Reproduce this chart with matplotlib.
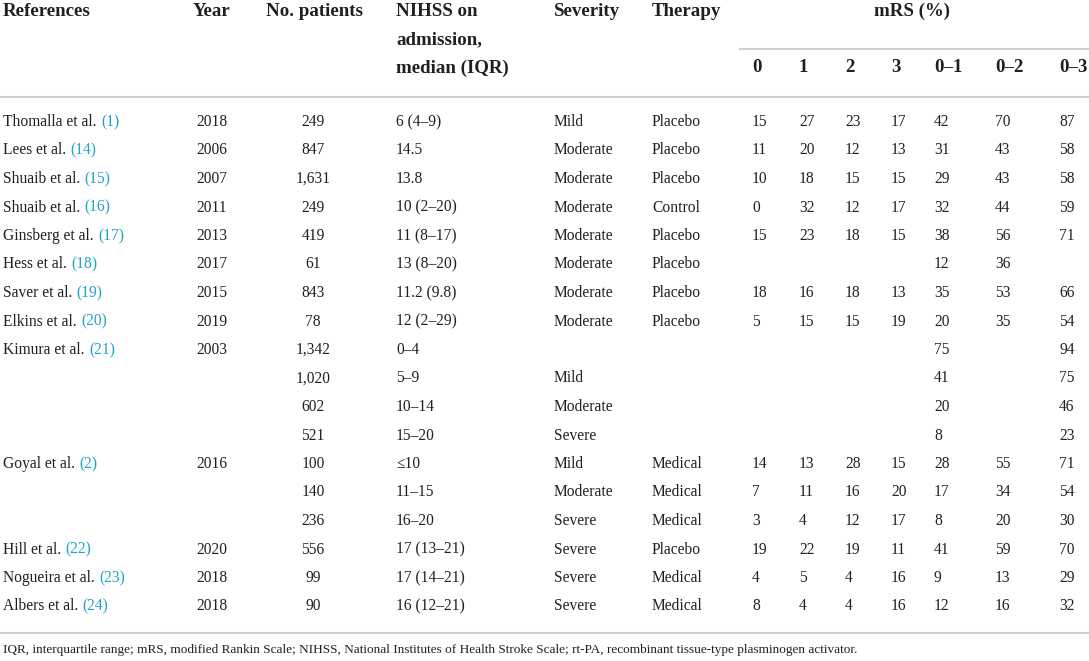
import matplotlib
matplotlib.use("Agg")
import matplotlib.pyplot as plt

# table content
refs = ["Thomalla et al.", "Lees et al.", "Shuaib et al.", "Shuaib et al.", "Ginsberg et al.",
        "Hess et al.", "Saver et al.", "Elkins et al.", "Kimura et al.", "", "", "",
        "Goyal et al.", "", "", "Hill et al.", "Nogueira et al.", "Albers et al."]
cites = ["(1)", "(14)", "(15)", "(16)", "(17)", "(18)", "(19)", "(20)", "(21)", "", "", "",
         "(2)", "", "", "(22)", "(23)", "(24)"]
years = ["2018", "2006", "2007", "2011", "2013", "2017", "2015", "2019", "2003", "", "", "",
         "2016", "", "", "2020", "2018", "2018"]
patients = ["249", "847", "1,631", "249", "419", "61", "843", "78", "1,342", "1,020", "602", "521",
            "100", "140", "236", "556", "99", "90"]
nihss = ["6 (4–9)", "14.5", "13.8", "10 (2–20)", "11 (8–17)", "13 (8–20)", "11.2 (9.8)", "12 (2–29)",
         "0–4", "5–9", "10–14", "15–20", "≤10", "11–15", "16–20", "17 (13–21)", "17 (14–21)", "16 (12–21)"]
severity = ["Mild", "Moderate", "Moderate", "Moderate", "Moderate", "Moderate", "Moderate", "Moderate",
            "", "Mild", "Moderate", "Severe", "Mild", "Moderate", "Severe", "Severe", "Severe", "Severe"]
therapy = ["Placebo", "Placebo", "Placebo", "Control", "Placebo", "Placebo", "Placebo", "Placebo",
           "", "", "", "", "Medical", "Medical", "Medical", "Placebo", "Medical", "Medical"]

mrs_labels = ["0", "1", "2", "3", "0–1", "0–2", "0–3"]
mrs_0 = [15, 11, 10, 0, 15, None, 18, 5, None, None, None, None, 14, 7, 3, 19, 4, 8]
mrs_1 = [27, 20, 18, 32, 23, None, 16, 15, None, None, None, None, 13, 11, 4, 22, 5, 4]
mrs_2 = [23, 12, 15, 12, 18, None, 18, 15, None, None, None, None, 28, 16, 12, 19, 4, 4]
mrs_3 = [17, 13, 15, 17, 15, None, 13, 19, None, None, None, None, 15, 20, 17, 11, 16, 16]
mrs_01 = [42, 31, 29, 32, 38, 12, 35, 20, 75, 41, 20, 8, 28, 17, 8, 41, 9, 12]
mrs_02 = [70, 43, 43, 44, 56, 36, 53, 35, None, None, None, None, 55, 34, 20, 59, 13, 16]
mrs_03 = [87, 58, 58, 59, 71, None, 66, 54, 94, 75, 46, 23, 71, 54, 30, 70, 29, 32]
mrs_cols = [mrs_0, mrs_1, mrs_2, mrs_3, mrs_01, mrs_02, mrs_03]

footnote = ("IQR, interquartile range; mRS, modified Rankin Scale; NIHSS, National Institutes of "
            "Health Stroke Scale; rt-PA, recombinant tissue-type plasminogen activator.")

# layout (pixels)
W, H = 1089, 661
TXT = "#231f20"
CITE = "#1fa3c6"
RULE = "#cfcfcf"
FONT = "Liberation Serif"
BODY = 11.2
HEAD = 13.6

mrs_x = [752, 799, 845, 891, 934, 995, 1059]
row_y0, row_dy = 122, 28.5

fig = plt.figure(figsize=(W / 100, H / 100), dpi=100)
ax = fig.add_axes([0, 0, 1, 1])
ax.set_xlim(0, W)
ax.set_ylim(H, 0)
ax.axis("off")

def head(x, y, s, ha="left"):
    ax.text(x, y, s, ha=ha, va="center", fontsize=HEAD, fontweight="bold", family=FONT, color=TXT)

def cell(x, y, s, ha="left", color=TXT):
    return ax.text(x, y, s, ha=ha, va="center", fontsize=BODY, family=FONT, color=color)

# header
head(3, 11, "References")
head(212, 11, "Year", ha="center")
head(314, 11, "No. patients", ha="center")
head(396, 11, "NIHSS on")
head(396, 40, "admission,")
head(396, 68, "median (IQR)")
head(554, 11, "Severity")
head(652, 11, "Therapy")
head(912, 11, "mRS (%)", ha="center")
ax.plot([739, W], [49, 49], color=RULE, lw=1.5, solid_capstyle="butt")
for x, lab in zip(mrs_x, mrs_labels):
    head(x, 68, lab)
ax.plot([0, W], [97, 97], color=RULE, lw=1.5, solid_capstyle="butt")

# body
for i in range(len(patients)):
    y = row_y0 + i * row_dy
    if refs[i]:
        t = cell(3, y, refs[i])
        ax.annotate(cites[i], xy=(1, 0), xycoords=t, xytext=(3.2, 0), textcoords="offset points",
                    ha="left", va="bottom", fontsize=BODY, family=FONT, color=CITE)
    cell(212, y, years[i], ha="center")
    cell(313, y, patients[i], ha="center")
    cell(396, y, nihss[i])
    cell(554, y, severity[i])
    cell(652, y, therapy[i])
    for x, col in zip(mrs_x, mrs_cols):
        if col[i] is not None:
            cell(x, y, str(col[i]))

ax.plot([0, W], [633, 633], color=RULE, lw=1.5, solid_capstyle="butt")
ax.text(3, 650, footnote, ha="left", va="center", fontsize=9.55, family=FONT, color=TXT)

fig.savefig("out.png", dpi=100, facecolor="white")
